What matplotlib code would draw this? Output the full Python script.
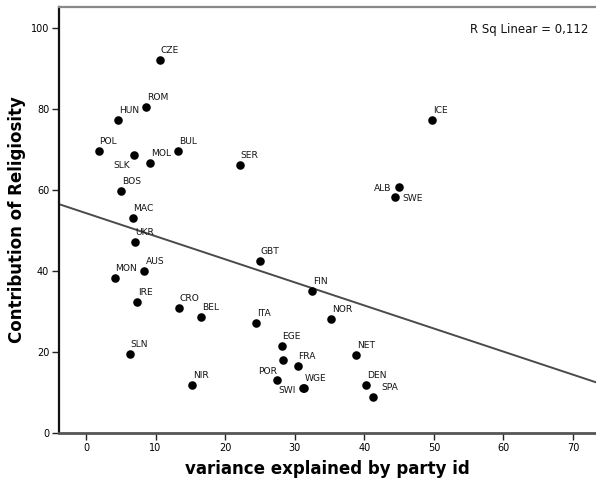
import numpy as np
import matplotlib
matplotlib.use('Agg')
import matplotlib.pyplot as plt

# countries, variance explained by party id (x) and contribution of religiosity (y)
paises = ['CZE', 'ROM', 'HUN', 'POL', 'SLK', 'MOL', 'BUL', 'SER', 'BOS', 'MAC',
          'UKR', 'ICE', 'ALB', 'SWE', 'MON', 'AUS', 'GBT', 'IRE', 'CRO', 'BEL',
          'ITA', 'SLN', 'NIR', 'EGE', '', 'FRA', 'POR', 'SWI', 'WGE', 'FIN',
          'NOR', 'NET', 'DEN', 'SPA']
var_party = [10.6, 8.6, 4.6, 1.8, 6.9, 9.2, 13.2, 22.1, 5.0, 6.7,
             7.0, 49.8, 45.0, 44.4, 4.1, 8.4, 25.0, 7.4, 13.3, 16.5,
             24.4, 6.3, 15.2, 28.1, 28.3, 30.4, 27.5, 31.2, 31.3, 32.5,
             35.2, 38.8, 40.3, 41.2]
religiao = [92.0, 80.6, 77.3, 69.6, 68.6, 66.7, 69.7, 66.2, 59.8, 53.2,
            47.2, 77.4, 60.8, 58.3, 38.4, 40.0, 42.5, 32.3, 30.9, 28.6,
            27.2, 19.5, 11.9, 21.5, 18.0, 16.5, 13.1, 11.1, 11.0, 35.0,
            28.1, 19.3, 11.9, 9.0]
r2_texto = 'R Sq Linear = 0,112'
# fit line (intercept, slope)
intercepto = 54.3
inclinacao = -0.570

# label placement (pixels) for the ones not sitting up-right of the dot
posicao = {
    'SLK': (-4, -6, 'right', 'top'),
    'ALB': (-8, -4, 'right', 'baseline'),
    'SWE': (7, -4, 'left', 'baseline'),
    'POR': (0, 6, 'right', 'baseline'),
    'SWI': (-7, -5, 'right', 'baseline'),
    'SPA': (9, 7, 'left', 'baseline'),
}

fig = plt.figure(figsize=(5.96, 4.86), dpi=100)
ax = fig.add_axes([59 / 596, 53 / 486, 1 - 59 / 596, 426 / 486])

ax.scatter(var_party, religiao, s=38, color='black', zorder=3, linewidths=0)

for nome, x, y in zip(paises, var_party, religiao):
    if not nome:
        continue
    dx, dy, ha, va = posicao.get(nome, (1, 7, 'left', 'baseline'))
    ax.annotate(nome, (x, y), xytext=(dx, dy), textcoords='offset pixels',
                ha=ha, va=va, fontsize=6.6, color='#161616')

# linha de regressao
xs = np.array([-3.88, 73.3])
ax.plot(xs, intercepto + inclinacao * xs, color='#4a4a4a', lw=1.4, zorder=2)

ax.text(0.985, 0.947, r2_texto, transform=ax.transAxes, ha='right', va='center',
        fontsize=8.5, color='#111111')

ax.set_xlim(-3.88, 73.3)
ax.set_ylim(0, 105.2)
ax.set_xticks([0, 10, 20, 30, 40, 50, 60, 70])
ax.set_yticks([0, 20, 40, 60, 80, 100])
ax.tick_params(labelsize=7, length=5, width=1, color='#222222', pad=2)

ax.spines['right'].set_visible(False)
ax.spines['top'].set_color('#888888')
ax.spines['top'].set_linewidth(1.6)
ax.spines['left'].set_color('#111111')
ax.spines['left'].set_linewidth(1.6)
ax.spines['bottom'].set_color('#555555')
ax.spines['bottom'].set_linewidth(2.0)

ax.set_xlabel('variance explained by party id', fontsize=12, fontweight='bold')
ax.set_ylabel('Contribution of Religiosity', fontsize=12, fontweight='bold')
ax.xaxis.set_label_coords(0.5, -0.064)
ax.yaxis.set_label_coords(-0.062, 0.5)

fig.savefig('out.png', dpi=100)
